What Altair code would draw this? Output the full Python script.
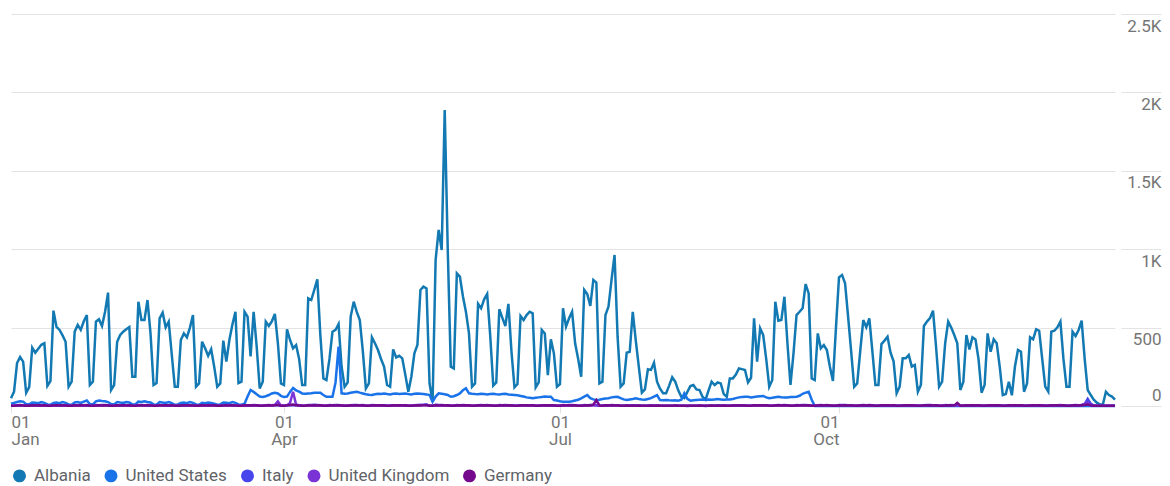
import altair as alt
import pandas as pd

countries = ["Albania", "United States", "Italy", "United Kingdom", "Germany"]
colors = ["#1379b3", "#1a73e8", "#4646ec", "#7a34d6", "#75098c"]

albania = [
    49, 91, 274, 312, 283, 85, 121,
    372, 340, 365, 390, 400, 128, 159,
    608, 504, 485, 450, 410, 123, 155,
    474, 517, 485, 540, 580, 134, 155,
    538, 553, 510, 600, 723, 102, 134,
    410, 453, 474, 490, 504, 187, 187,
    665, 548, 548, 676, 463, 134, 146,
    559, 595, 502, 538, 330, 123, 123,
    421, 463, 438, 500, 580, 123, 144,
    410, 368, 320, 362, 250, 123, 144,
    417, 283, 421, 520, 601, 146, 155,
    601, 570, 317, 601, 380, 112, 155,
    538, 510, 540, 587, 400, 144, 134,
    489, 421, 368, 389, 300, 134, 134,
    687, 676, 740, 808, 450, 176, 166,
    300, 474, 485, 523, 250, 123, 150,
    570, 665, 600, 548, 350, 112, 144,
    438, 400, 357, 300, 251, 134, 123,
    361, 310, 320, 304, 200, 91, 187,
    336, 389, 740, 761, 750, 144, 27,
    931, 1123, 995, 1888, 1000, 251, 240,
    846, 825, 700, 600, 463, 123, 144,
    651, 623, 680, 714, 450, 130, 150,
    617, 562, 510, 651, 350, 119, 140,
    574, 548, 580, 601, 591, 119, 150,
    485, 463, 197, 425, 336, 123, 140,
    623, 506, 559, 601, 400, 300, 187,
    740, 714, 638, 804, 787, 144, 155,
    580, 634, 804, 963, 442, 123, 144,
    340, 346, 601, 417, 250, 85, 106,
    234, 230, 276, 155, 110, 81, 81,
    130, 183, 155, 100, 59, 50, 90,
    127, 134, 106, 102, 59, 40, 100,
    155, 134, 150, 144, 76, 59, 176,
    176, 200, 240, 235, 230, 150, 180,
    559, 283, 495, 453, 300, 123, 166,
    665, 544, 548, 697, 400, 134, 336,
    580, 601, 623, 778, 718, 176, 166,
    463, 368, 389, 357, 250, 160, 500,
    821, 836, 783, 570, 350, 123, 144,
    350, 548, 502, 559, 350, 134, 134,
    395, 417, 442, 340, 285, 81, 123,
    304, 304, 325, 251, 262, 91, 134,
    510, 538, 560, 608, 378, 123, 155,
    400, 538, 500, 453, 400, 102, 155,
    453, 361, 438, 425, 300, 85, 134,
    463, 346, 425, 400, 250, 70, 76,
    155, 68, 250, 357, 346, 91, 144,
    438, 425, 489, 480, 300, 123, 91,
    474, 480, 502, 538, 300, 123, 123,
    474, 446, 485, 544, 300, 102, 70,
    40, 21, 10, 10, 91, 70, 60,
    40,
]

united_states = [
    15, 20, 25, 30, 28, 12, 10,
    22, 20, 18, 25, 20, 10, 8,
    20, 22, 18, 25, 20, 10, 8,
    22, 25, 20, 28, 35, 12, 10,
    30, 35, 32, 30, 25, 12, 10,
    25, 22, 20, 25, 22, 10, 10,
    28, 25, 30, 25, 22, 10, 8,
    25, 22, 20, 25, 18, 8, 10,
    20, 22, 18, 25, 20, 10, 8,
    20, 18, 22, 20, 15, 8, 10,
    22, 20, 18, 25, 20, 10, 8,
    15,
    60, 102, 90, 75, 60, 57, 62, 70, 80, 85,
    80, 65, 57, 60, 90, 115, 100, 91, 80, 78,
    80, 82, 85, 85, 85, 70, 59, 59, 59, 150,
    378, 81, 78, 80, 85, 88, 91, 85, 80, 75,
    72, 70, 75,
    78, 76, 80, 76, 74, 78, 80, 76, 78, 80, 76, 74, 78, 80, 78, 76, 74,
    70, 27, 60, 81, 78, 75, 70, 59, 62, 70, 80, 100, 113, 81,
    78, 76, 75, 78, 76, 74, 76, 78, 75, 74, 76, 78, 74, 72, 70, 68, 64,
    60, 55, 52, 49, 52, 55, 58, 60, 59, 59,
    38, 35, 30, 27, 27, 27, 30, 35, 40, 49,
    60, 70, 50, 42, 38, 40, 45, 48, 50, 55,
    58, 59, 50, 42, 38, 42, 45, 49, 45, 42,
    40, 45, 50, 60, 70, 38, 36, 38, 36, 35,
    36, 34, 40, 81, 45, 34, 36, 38, 40, 42,
    40, 42, 40, 42, 44, 42, 40, 42, 42, 45,
    50, 55, 58, 59, 59, 55, 58, 60, 62, 64,
    55, 49, 52, 56, 59, 56, 55, 55, 57, 58,
    59, 65, 78, 85, 91, 40,
    0, 0, 0, 0, 0, 0, 0, 0, 0, 0,
    0, 0, 0, 0, 0, 0, 0, 0, 0, 0,
    0, 0, 0, 0, 0, 0, 0, 0, 0, 0,
    0, 0, 0, 0, 0, 0, 0, 0, 0, 0,
    0, 0, 0, 0, 0, 0, 0, 0, 0, 0,
    0, 0, 0, 0, 0, 0, 0, 0, 0, 0,
    0, 0, 0, 0, 0, 0, 0, 0, 0, 0,
    0, 0, 0, 0, 0, 0, 0, 0, 0, 0,
    0, 0, 0, 0, 0, 0, 0, 0, 0, 0,
    0, 0, 0, 0, 0, 0, 0, 0, 0, 0,
]

italy = [
    2, 3, 5, 6, 5, 2, 1,  6, 5, 4, 7, 5, 2, 2,  5, 6, 4, 5, 6, 1, 2,
    4, 5, 6, 5, 7, 2, 1,  6, 5, 7, 6, 5, 2, 2,  5, 4, 6, 5, 4, 1, 2,
    6, 7, 5, 6, 5, 2, 1,  5, 6, 5, 4, 6, 2, 2,  4, 5, 6, 5, 4, 1, 1,
    6, 5, 4, 6, 5, 2, 2,  5, 6, 7, 5, 6, 2, 1,  6, 5, 4, 6, 5, 2, 2,
    5, 6, 5, 7, 4, 2, 1,  4, 6, 5, 6, 5, 1, 2,  7, 6, 8, 7, 5, 2, 2,
    6, 5, 6, 7, 4, 2, 1,  5, 7, 6, 5, 6, 2, 2,  6, 5, 4, 5, 4, 1, 2,
    5, 4, 5, 4, 3, 1, 1,  5, 6, 7, 8, 10, 2, 1, 8, 7, 6, 5, 4, 2, 2,
    6, 5, 6, 5, 4, 1, 2,  5, 6, 5, 6, 4, 2, 1,  6, 5, 6, 5, 5, 2, 2,
    5, 4, 5, 4, 4, 1, 2,  4, 5, 3, 4, 3, 1, 1,  5, 4, 5, 6, 5, 2, 1,
    6, 5, 6, 7, 6, 2, 2,  5, 4, 6, 5, 4, 1, 2,  3, 3, 4, 3, 2, 1, 1,
    2, 3, 2, 2, 2, 1, 1,  2, 2, 3, 2, 2, 1, 0,  1, 2, 2, 2, 1, 0, 1,
    2, 2, 3, 3, 2, 1, 1,  3, 2, 3, 3, 2, 1, 1,  5, 4, 5, 5, 4, 1, 2,
    5, 6, 5, 6, 5, 2, 1,  6, 5, 7, 6, 5, 2, 2,  5, 6, 5, 6, 4, 2, 1,
    6, 7, 6, 5, 4, 2, 2,  5, 6, 5, 6, 5, 2, 1,  4, 5, 4, 5, 4, 1, 2,
    4, 5, 4, 4, 3, 1, 1,  5, 6, 6, 5, 4, 2, 1,  6, 5, 6, 5, 4, 1, 2,
    5, 4, 5, 4, 4, 1, 1,  4, 5, 4, 5, 3, 1, 1,  3, 4, 3, 4, 3, 1, 2,
    4, 5, 4, 5, 4, 1, 1,  5, 4, 5, 6, 4, 2, 1,  5, 6, 5, 6, 12, 45, 15,
    3, 2, 1, 1, 2, 1, 1,  1,
]

united_kingdom = [
    3, 2, 4, 5, 4, 2, 1,  4, 5, 4, 3, 5, 2, 2,  5, 4, 5, 4, 3, 1, 2,
    4, 3, 5, 4, 5, 2, 1,  3, 4, 5, 4, 4, 1, 2,  4, 5, 4, 5, 3, 2, 1,
    5, 4, 3, 4, 5, 1, 2,  4, 5, 4, 3, 4, 2, 1,  3, 4, 5, 4, 3, 1, 1,
    4, 5, 4, 5, 4, 2, 2,  5, 4, 5, 4, 3, 1, 2,  4, 3, 4, 5, 4, 2, 1,
    5, 4, 5, 6, 30, 2, 1, 5, 20, 91, 8, 5, 2, 2, 5, 4, 5, 4, 5, 2, 1,
    4, 5, 4, 5, 4, 1, 2,  5, 4, 5, 4, 3, 2, 1,  4, 5, 4, 3, 4, 1, 2,
    5, 4, 3, 4, 5, 2, 1,  4, 5, 6, 7, 8, 2, 1,  6, 5, 4, 5, 4, 1, 2,
    5, 4, 5, 4, 5, 2, 1,  4, 5, 4, 5, 4, 1, 2,  5, 4, 5, 4, 3, 2, 1,
    4, 5, 4, 5, 4, 2, 2,  5, 4, 3, 4, 5, 1, 2,  6, 5, 6, 5, 4, 2, 1,
    5, 4, 5, 4, 3, 1, 1,  4, 5, 4, 5, 4, 2, 1,  3, 2, 3, 2, 3, 1, 1,
    2, 3, 2, 3, 2, 1, 1,  2, 2, 3, 2, 2, 1, 1,  2, 2, 2, 3, 2, 1, 1,
    3, 2, 3, 2, 3, 1, 1,  3, 4, 3, 4, 3, 1, 2,  4, 5, 4, 5, 4, 2, 1,
    5, 4, 5, 4, 5, 1, 2,  4, 5, 4, 5, 4, 2, 1,  5, 4, 5, 4, 3, 1, 2,
    4, 5, 4, 5, 4, 2, 1,  3, 4, 3, 4, 3, 1, 1,  4, 3, 4, 3, 4, 1, 2,
    3, 4, 3, 4, 3, 1, 1,  4, 5, 4, 5, 4, 2, 1,  5, 4, 5, 4, 3, 1, 2,
    4, 3, 4, 3, 4, 1, 1,  3, 4, 3, 4, 3, 1, 1,  4, 3, 4, 3, 4, 1, 2,
    3, 4, 3, 4, 3, 1, 1,  4, 3, 4, 5, 4, 1, 1,  4, 5, 4, 6, 15, 22, 8,
    2, 1, 1, 1, 2, 1, 1,  1,
]

germany = [
    2, 2, 3, 4, 3, 1, 1,  4, 3, 4, 3, 4, 1, 1,  3, 4, 3, 4, 3, 1, 1,
    4, 3, 4, 3, 4, 1, 2,  3, 4, 3, 4, 3, 1, 1,  4, 3, 4, 3, 4, 1, 1,
    3, 4, 3, 4, 3, 2, 1,  4, 3, 4, 3, 4, 1, 1,  3, 4, 3, 4, 3, 1, 1,
    4, 3, 4, 3, 4, 1, 2,  3, 4, 3, 4, 3, 1, 1,  4, 3, 4, 3, 4, 1, 1,
    3, 4, 3, 4, 8, 1, 1,  4, 6, 10, 4, 3, 1, 1, 4, 3, 4, 3, 4, 1, 2,
    3, 4, 3, 4, 3, 1, 1,  4, 3, 4, 3, 4, 1, 1,  3, 4, 3, 4, 3, 1, 1,
    4, 3, 4, 3, 4, 1, 2,  3, 4, 3, 4, 5, 1, 1,  4, 3, 4, 3, 4, 1, 1,
    3, 4, 3, 4, 3, 1, 1,  4, 3, 4, 3, 4, 1, 2,  3, 4, 3, 4, 3, 1, 1,
    4, 3, 4, 3, 4, 1, 1,  3, 4, 3, 4, 3, 1, 1,  4, 3, 4, 3, 4, 1, 1,
    3, 4, 3, 8, 38, 4, 1, 4, 3, 4, 3, 4, 1, 1,  3, 2, 3, 2, 3, 1, 1,
    2, 3, 2, 3, 2, 1, 1,  2, 2, 3, 2, 2, 1, 1,  2, 2, 2, 3, 2, 1, 1,
    3, 2, 3, 2, 3, 1, 1,  3, 3, 3, 3, 3, 1, 1,  4, 3, 4, 3, 4, 1, 1,
    3, 4, 3, 4, 3, 1, 1,  4, 3, 4, 3, 4, 1, 2,  3, 4, 3, 4, 3, 1, 1,
    4, 3, 4, 3, 4, 1, 1,  3, 4, 3, 4, 3, 1, 1,  4, 3, 4, 3, 4, 1, 2,
    3, 4, 3, 4, 3, 1, 1,  4, 3, 4, 3, 4, 1, 1,  3, 4, 3, 4, 20, 2, 1,
    4, 3, 4, 3, 4, 1, 1,  3, 4, 3, 4, 3, 1, 1,  4, 3, 4, 3, 4, 1, 1,
    3, 4, 3, 4, 3, 1, 1,  4, 3, 4, 3, 4, 1, 1,  3, 4, 3, 4, 6, 10, 4,
    2, 1, 1, 1, 2, 1, 1,  1,
]

y_ticks = [0, 500, 1000, 1500, 2000, 2500]

series = [albania, united_states, italy, united_kingdom, germany]
dates = pd.date_range("2018-01-01", periods=365, freq="D").strftime("%Y-%m-%d")
rows = []
for name, vals in zip(countries, series):
    for d, v in zip(dates, vals):
        rows.append({"date": d, "country": name, "value": v})
df = pd.DataFrame(rows)

GRID = "#e3e3e3"
AXIS_TEXT = "#757575"

x_axis = alt.Axis(
    values=[alt.DateTime(year=2018, month=m, date=1, utc=True) for m in (1, 4, 7, 10)],
    labelExpr="[utcFormat(datum.value, '%d'), utcFormat(datum.value, '%b')]",
    grid=False,
    domain=False,
    ticks=True,
    tickSize=7,
    tickColor=GRID,
    labelFont="Roboto",
    labelFontSize=17,
    labelColor=AXIS_TEXT,
    labelPadding=1,
    labelBaseline="top",
    labelLineHeight=17,
    labelAlign={
        "condition": [
            {"test": "utcmonth(datum.value) === 0", "value": "left"},
            {"test": "utcmonth(datum.value) === 9", "value": "right"},
        ],
        "value": "center",
    },
    title=None,
)

y_axis = alt.Axis(
    orient="right",
    values=y_ticks,
    labelExpr="datum.value == 0 ? '0' : (datum.value < 1000 ? '500' : format(datum.value / 1000, '~g') + 'K')",
    grid=True,
    gridColor=GRID,
    gridWidth=1,
    domain=False,
    ticks=True,
    tickSize=40,
    tickColor=GRID,
    offset=6,
    labelAlign="right",
    labelPadding=0,
    labelBaseline="alphabetic",
    labelOffset={"condition": {"test": "datum.value === 0", "value": -6}, "value": 17},
    labelFont="Roboto",
    labelFontSize=17,
    labelColor=AXIS_TEXT,
    title=None,
)

legend = alt.Legend(
    orient="none",
    legendX=0,
    legendY=453,
    direction="horizontal",
    title=None,
    symbolType="circle",
    symbolSize=132,
    symbolFillColor={"expr": "scale('color', datum.value)"},
    symbolStrokeColor={"expr": "scale('color', datum.value)"},
    symbolOpacity=1,
    labelFont="Roboto",
    labelFontSize=17,
    labelColor="#5f6368",
    labelOffset=6,
    columnPadding=10.5,
)

chart = (
    alt.Chart(df)
    .mark_line(strokeWidth=2.5)
    .encode(
        x=alt.X(
            "date:T",
            scale=alt.Scale(
                type="utc",
                domain=[
                    alt.DateTime(year=2018, month=1, date=1, utc=True),
                    alt.DateTime(year=2018, month=12, date=31, utc=True),
                ],
            ),
            axis=x_axis,
        ),
        y=alt.Y("value:Q", scale=alt.Scale(domain=[0, 2500], nice=False), axis=y_axis),
        color=alt.Color(
            "country:N",
            scale=alt.Scale(domain=countries, range=colors),
            legend=legend,
        ),
    )
    .properties(
        width=1104,
        height=392,
        autosize=alt.AutoSizeParams(type="none"),
        padding={"left": 3, "top": 6, "right": 47, "bottom": 78},
    )
    .configure(background="white")
    .configure_view(stroke="transparent", strokeWidth=0)
)

chart.save("out.html", embed_options={"renderer": "svg", "actions": False})
